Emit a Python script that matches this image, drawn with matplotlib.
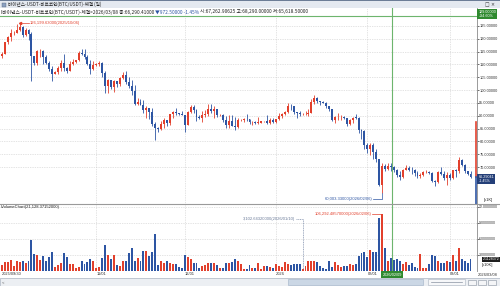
import matplotlib
matplotlib.use("Agg")
import matplotlib.pyplot as plt
import matplotlib.transforms as mtransforms
from matplotlib.patches import Rectangle
import numpy as np
import pandas as pd

plt.rcParams['font.family'] = ['Noto Sans CJK KR', 'DejaVu Sans']

# ---- data (BTC/USDT daily, price in thousand USDT, volume in thousand BTC) ----
dates = pd.date_range('2025-09-30', '2026-03-08', freq='D')

opens = [113.30,
    114.05, 118.59, 120.53, 122.27, 122.39, 123.51, 124.75, 121.45, 123.31, 121.70,
    113.21, 110.64, 115.17, 115.27, 113.03, 110.76, 108.19, 106.43, 107.19, 108.64,
    110.59, 108.48, 107.60, 110.08, 111.03, 111.67, 114.56, 114.11, 112.90, 110.05, 108.32,
    109.61, 110.10, 110.54, 106.58, 101.50, 103.88, 101.35, 103.37, 102.28, 104.72,
    106.01, 103.06, 101.65, 99.70, 94.59, 95.55, 94.26, 92.22, 92.96, 91.55,
    86.64, 85.13, 84.74, 86.83, 88.27, 87.34, 90.48, 91.33, 90.91, 90.85,
    90.39, 86.32, 91.28, 93.45, 92.09, 89.39, 89.27, 90.40, 90.63, 92.69,
    92.02, 92.51, 90.27, 90.29, 88.17, 86.43, 87.86, 86.14, 85.52, 88.14,
    88.36, 88.66, 88.62, 87.49, 87.65, 87.25, 87.30, 87.84, 87.84, 87.14, 88.45,
    87.65, 88.73, 89.95, 90.60, 91.41, 93.88, 93.73, 91.30, 91.03, 90.51,
    90.60, 90.80, 91.19, 95.32, 97.03, 95.59, 95.52, 95.10, 93.63, 92.56,
    88.31, 89.38, 89.46, 89.51, 89.20, 86.58, 88.28, 89.22, 89.20, 84.56, 84.13,
    78.62, 76.97, 78.68, 75.66, 73.02, 62.91, 70.54, 69.28, 70.52, 70.12,
    68.80, 67.04, 66.20, 68.85, 69.77, 68.85, 68.78, 67.50, 66.43, 66.99,
    67.97, 68.02, 67.62, 64.62, 64.07, 67.97, 67.46, 65.88,
    67.00, 65.72, 68.79, 68.36, 72.70, 70.91, 68.31, 67.263]

closes = [114.05,
    118.59, 120.53, 122.27, 122.39, 123.51, 124.75, 121.45, 123.31, 121.70, 113.21,
    110.64, 115.17, 115.27, 113.03, 110.76, 108.19, 106.43, 107.19, 108.64, 110.59,
    108.48, 107.60, 110.08, 111.03, 111.67, 114.56, 114.11, 112.90, 110.05, 108.32, 109.61,
    110.10, 110.54, 106.58, 101.50, 103.88, 101.35, 103.37, 102.28, 104.72, 106.01,
    103.06, 101.65, 99.70, 94.59, 95.55, 94.26, 92.22, 92.96, 91.55, 86.64,
    85.13, 84.74, 86.83, 88.27, 87.34, 90.48, 91.33, 90.91, 90.85, 90.39,
    86.32, 91.28, 93.45, 92.09, 89.39, 89.27, 90.40, 90.63, 92.69, 92.02,
    92.51, 90.27, 90.29, 88.17, 86.43, 87.86, 86.14, 85.52, 88.14, 88.36,
    88.66, 88.62, 87.49, 87.65, 87.25, 87.30, 87.84, 87.84, 87.14, 88.45, 87.65,
    88.73, 89.95, 90.60, 91.41, 93.88, 93.73, 91.30, 91.03, 90.51, 90.60,
    90.80, 91.19, 95.32, 97.03, 95.59, 95.52, 95.10, 93.63, 92.56, 88.31,
    89.38, 89.46, 89.51, 89.20, 86.58, 88.28, 89.22, 89.20, 84.56, 84.13, 78.62,
    76.97, 78.68, 75.66, 73.02, 62.91, 70.54, 69.28, 70.52, 70.12, 68.80,
    67.04, 66.20, 68.85, 69.77, 68.85, 68.78, 67.50, 66.43, 66.99, 67.97,
    68.02, 67.62, 64.62, 64.07, 67.97, 67.46, 65.88, 67.00,
    65.72, 68.79, 68.36, 72.70, 70.91, 68.31, 67.26, 66.29041]

highs = [114.8,
    118.9, 121.0, 123.9, 122.9, 125.7, 126.2, 125.1, 124.2, 123.8, 122.6,
    113.4, 115.8, 116.0, 115.5, 113.6, 111.3, 109.3, 107.5, 109.4, 111.7,
    114.0, 109.1, 111.3, 112.0, 111.9, 115.4, 116.1, 116.0, 113.6, 111.6, 111.2,
    110.5, 111.3, 110.8, 107.3, 104.5, 104.0, 104.1, 103.4, 105.0, 107.0,
    107.5, 105.3, 104.0, 102.0, 96.9, 96.6, 96.0, 93.8, 93.2, 93.2,
    87.5, 85.6, 88.0, 89.2, 88.5, 90.7, 91.9, 93.1, 91.2, 91.9,
    90.4, 92.0, 94.2, 94.1, 92.7, 90.3, 91.8, 92.3, 94.6, 94.5,
    93.6, 92.8, 90.6, 90.5, 90.0, 90.4, 90.4, 89.5, 89.0, 88.6,
    89.1, 90.6, 88.9, 88.0, 88.0, 89.5, 88.0, 88.0, 90.4, 89.3, 89.0,
    88.9, 90.9, 91.0, 91.8, 94.8, 94.7, 93.8, 91.5, 91.8, 90.9,
    91.9, 92.5, 96.5, 97.9, 97.2, 95.9, 95.6, 95.5, 93.6, 92.8,
    90.0, 91.2, 90.2, 89.9, 89.2, 88.9, 89.6, 90.6, 89.5, 84.7, 84.3,
    79.3, 79.2, 79.3, 76.9, 73.3, 71.7, 71.2, 71.7, 71.5, 70.4,
    69.4, 68.3, 69.2, 70.9, 70.4, 70.0, 69.1, 68.5, 67.6, 68.3,
    68.7, 68.3, 68.1, 65.0, 68.3, 70.0, 68.3, 68.0,
    67.8, 69.0, 69.3, 74.0, 73.1, 71.3, 68.6, 68.29]

lows = [112.7,
    113.9, 118.0, 119.3, 121.6, 122.2, 123.1, 120.6, 121.1, 119.7, 103.6,
    109.6, 109.6, 113.0, 110.0, 110.2, 107.4, 103.5, 106.3, 106.1, 107.6,
    107.4, 106.7, 107.5, 109.7, 110.6, 111.3, 113.8, 112.2, 109.6, 106.3, 108.0,
    109.4, 109.5, 105.3, 98.9, 98.9, 100.3, 99.3, 101.4, 101.5, 104.3,
    102.5, 100.8, 98.0, 94.0, 94.0, 94.0, 91.2, 89.3, 88.6, 86.1,
    80.6, 83.5, 84.6, 85.3, 86.1, 86.3, 89.2, 90.2, 90.2, 90.2,
    83.8, 86.2, 91.0, 90.9, 88.1, 88.9, 87.7, 89.6, 89.9, 91.2,
    89.3, 89.5, 89.8, 87.6, 85.1, 85.3, 85.9, 84.5, 85.3, 87.8,
    87.6, 87.9, 86.6, 86.4, 86.6, 86.7, 87.2, 87.4, 86.7, 86.9, 87.0,
    87.3, 88.3, 89.3, 90.3, 91.0, 92.4, 90.8, 89.3, 89.8, 90.2,
    90.3, 90.0, 91.0, 94.5, 94.8, 94.3, 94.8, 92.9, 91.9, 87.8,
    87.3, 88.3, 88.5, 88.8, 86.0, 86.2, 87.2, 88.6, 83.3, 81.1, 77.0,
    75.6, 74.6, 73.1, 72.1, 62.5, 60.00333, 68.3, 68.9, 68.5, 68.0,
    66.1, 65.1, 65.9, 68.7, 68.6, 67.3, 66.6, 65.9, 65.7, 66.3,
    67.7, 67.4, 64.2, 62.5, 63.9, 66.8, 64.8, 63.0,
    65.0, 65.5, 66.2, 67.8, 70.2, 67.5, 66.9, 65.6185]

volumes = [10.8,
    15.3, 15.3, 19.1, 7.6, 17.2, 15.3, 17.2, 14.0, 17.2, 56.7,
    31.8, 28.7, 19.1, 28.0, 18.5, 24.8, 33.8, 6.4, 10.8, 14.6,
    33.1, 24.8, 12.7, 12.1, 4.5, 6.0, 17.2, 12.7, 15.9, 21.7, 17.2,
    4.5, 7.0, 23.6, 47.1, 29.9, 21.7, 28.7, 10.8, 8.3, 18.5,
    17.2, 32.5, 42.7, 18.5, 23.6, 17.2, 35.7, 35.7, 28.0, 35.0,
    68.2, 10.8, 17.2, 14.0, 17.2, 14.0, 12.1, 12.7, 6.4, 4.5,
    29.9, 24.8, 21.7, 14.0, 14.6, 4.5, 8.9, 10.8, 13.4, 14.6,
    14.6, 10.8, 4.5, 3.8, 14.6, 14.6, 15.9, 21.0, 17.2, 12.1,
    3.5, 3.3, 9.6, 4.5, 4.5, 14.0, 3.5, 8.9, 7.6, 5.7, 4.5,
    12.7, 7.6, 5.7, 15.9, 12.7, 10.8, 12.1, 12.1, 12.1, 3.1026432,
    8.0, 18.5, 18.5, 18.5, 15.9, 8.9, 4.5, 3.5, 18.5, 6.4,
    15.9, 10.8, 5.7, 8.9, 7.6, 12.7, 10.8, 12.1, 28.0, 33.1, 35.0,
    26.0, 38.2, 35.0, 35.0, 98.0, 106.2924857, 41.4, 17.2, 23.6, 20.0,
    22.3, 18.5, 12.1, 15.9, 10.8, 14.0, 5.7, 4.5, 31.2, 4.5,
    4.5, 12.0, 29.9, 27.4, 17.2, 14.6, 14.6, 17.2,
    15.9, 29.9, 17.2, 42.7, 22.3, 18.5, 14.0, 21.12837152]

price_ticks = [70, 75, 80, 85, 90, 95, 100, 105, 110, 115, 120, 125]
vol_ticks = [3, 6, 9, 12]
month_ticks = ['2025-09-30', '2025-11-01', '2025-12-01', '2026-01-01', '2026-02-01', '2026-03-01']
month_labels = ['2025/09/30', '11/01', '12/01', '2026', '02/01', '03/01']
cross_day = '2026-02-09'
cross_price = 129.0

RED = '#e2402c'
BLUE = '#2d55a3'
GREEN = '#6db56d'
GRID = '#c9c9c9'
LAT = 'Liberation Sans'

W, H = 500, 286
fig = plt.figure(figsize=(W / 100, H / 100), dpi=100)
fig.patch.set_facecolor('white')


def rect(x0, y0, x1, y1):
    return [x0 / W, 1 - y1 / H, (x1 - x0) / W, (y1 - y0) / H]


def fpos(x, y):
    return x / W, 1 - y / H


ax = fig.add_axes(rect(0, 8, 477, 204))
axv = fig.add_axes(rect(0, 204, 477, 270.5))

o = np.array(opens)
c = np.array(closes)
hi = np.array(highs)
lo = np.array(lows)
vol = np.array(volumes) / 10.0  # -> x10K
idx = np.arange(len(c))
cols = np.where(c >= o, RED, BLUE)

for a in (ax, axv):
    a.set_xlim(-0.68, 161.2)
    for s in a.spines.values():
        s.set_visible(False)
    a.spines['right'].set_visible(True)
    a.spines['right'].set_color('#8a8a8a')
    a.spines['right'].set_linewidth(0.6)

ax.set_ylim(55.57, 132.02)
axv.set_ylim(0, 12.48)

# grids
month_idx = [dates.get_loc(pd.Timestamp(d)) for d in month_ticks]
for m in month_idx[1:]:
    ax.axvline(m, color=GRID, lw=0.5, ls=(0, (1, 1.5)), zorder=0)
    axv.axvline(m, color=GRID, lw=0.5, ls=(0, (1, 1.5)), zorder=0)
for p in price_ticks:
    ax.axhline(p, color=GRID, lw=0.5, ls=(0, (1, 1.5)), zorder=0)
for v in vol_ticks:
    axv.axhline(v, color=GRID, lw=0.5, ls=(0, (1, 1.5)), zorder=0)

# candles
ax.vlines(idx, lo, hi, colors=cols, linewidth=0.6, zorder=2)
ax.bar(idx, np.maximum(np.abs(c - o), 0.18), bottom=np.minimum(o, c), width=0.66,
       color=cols, linewidth=0, zorder=3)

# volume
axv.bar(idx, vol, width=0.66, color=cols, linewidth=0, zorder=2)

# right axis ticks
ax.yaxis.tick_right()
ax.set_yticks(price_ticks)
ax.set_yticklabels([f'{p:.5f}' for p in price_ticks])
axv.yaxis.tick_right()
axv.set_yticks(vol_ticks)
axv.set_yticklabels([f'{v:.7f}' for v in vol_ticks])
ax.tick_params(axis='y', length=1.3, width=0.5, pad=0.4, labelsize=2.8,
               colors='#333333', labelfontfamily=LAT)
axv.tick_params(axis='y', length=1.2, width=0.5, pad=0.3, labelsize=2.6,
                colors='#333333', labelfontfamily=LAT)
ax.tick_params(axis='x', bottom=False, labelbottom=False)
axv.set_xticks(month_idx)
axv.set_xticklabels(month_labels, ha='left')
axv.tick_params(axis='x', length=0, pad=1.2, labelsize=2.9, colors='#333333',
                labelfontfamily=LAT)

# crosshair
ci = dates.get_loc(pd.Timestamp(cross_day)) + 0.5
ax.axvline(ci, color=GREEN, lw=0.8, zorder=4)
axv.axvline(ci, color=GREEN, lw=0.8, zorder=4)
ax.axhline(cross_price, color=GREEN, lw=0.8, zorder=4)

# max / min annotations on price
imax = int(np.argmax(hi))
imin = int(np.argmin(lo))
ax.plot([imax, imax + 3.2], [hi[imax], hi[imax]], color=RED, lw=0.5, zorder=5)
ax.plot([imax], [hi[imax]], marker='<', ms=1.6, color=RED, zorder=5)
ax.text(imax + 3.3, hi[imax], f'{hi[imax] * 1000 - 0.37:,.5f}({dates[imax]:%Y/%m/%d})',
        fontsize=3.0, color=RED, va='center', ha='left', family=LAT, zorder=5)
ylab = 57.45
ax.plot([imin - 3.0, imin, imin], [ylab, ylab, lo[imin]], color=BLUE, lw=0.5, zorder=5)
ax.text(imin - 3.1, ylab, f'{lo[imin] * 1000:,.5f}({dates[imin]:%Y/%m/%d})',
        fontsize=3.0, color=BLUE, va='center', ha='right', family=LAT, zorder=5)

# max / min annotations on volume
vmax = int(np.argmax(vol))
vmin = int(np.argmin(vol))
ax_y = 10.63
axv.plot([vmax - 3.4, vmax], [ax_y, ax_y], color=RED, lw=0.5, zorder=5)
axv.text(vmax - 3.5, ax_y, f'{volumes[vmax] * 1000:,.8f}({dates[vmax]:%Y/%m/%d})',
         fontsize=3.0, color=RED, va='center', ha='right', family=LAT, zorder=5)
vy = 9.66
axv.plot([vmin - 2.3, vmin, vmin], [vy, vy, vol[vmin]], color='#7a8aa8', lw=0.5,
         ls=(0, (1.5, 1)), zorder=5)
axv.text(vmin - 2.4, vy, f'{volumes[vmin] * 1000:,.8f}({dates[vmin]:%Y/%m/%d})',
         fontsize=3.0, color='#6a7a98', va='center', ha='right', family=LAT, zorder=5)

# right-axis markers
trans = mtransforms.blended_transform_factory(ax.transAxes, ax.transData)
ax.plot([0.998, 0.998], [87.5, c[-1]], transform=trans, color=RED, lw=1.2,
        clip_on=False, zorder=6)
ax.plot([0.998, 0.998], [c[-1], 55.57], transform=trans, color=BLUE, lw=1.2,
        clip_on=False, zorder=6)
ax.text(1.003, c[-1] - 0.9, f'{c[-1]:.5f}\n{(c[-1] / o[-1] - 1) * 100:.2f}%', transform=trans,
        fontsize=2.7, color='white', va='center', ha='left', family=LAT,
        linespacing=0.95, zorder=7,
        bbox=dict(boxstyle='square,pad=0.25', fc='#243f78', ec='none'))
ax.text(1.003, cross_price + 0.6, f'{cross_price:.5f}\n+{(cross_price / c[-1] - 1) * 100:.2f}%',
        transform=trans, fontsize=2.7, color='white', va='center', ha='left',
        family=LAT, linespacing=0.95, zorder=7,
        bbox=dict(boxstyle='square,pad=0.25', fc='#2f8a2f', ec='none'))
transv = mtransforms.blended_transform_factory(axv.transAxes, axv.transData)
axv.text(1.012, vol[-1], f'{vol[-1]:.7f}', transform=transv, fontsize=2.6, color='white',
         va='center', ha='left', family=LAT, zorder=7,
         bbox=dict(boxstyle='square,pad=0.2', fc='#1e1e1e', ec='none'))

# unit labels
fig.text(*fpos(484, 200.5), '[x1K]', fontsize=2.9, family=LAT, color='#222222', va='center')
fig.text(*fpos(482, 264.8), '[x10K]', fontsize=2.9, family=LAT, color='#222222', va='center')
fig.text(*fpos(478, 274.5), f'{dates[-1]:%Y/%m/%d}', fontsize=2.9, family=LAT,
         color='#333333', va='center')

# crosshair date box
fig.text(*fpos(2 + 2.946 * ci, 274.5), cross_day.replace('-', '/'), fontsize=2.8,
         family=LAT, color='white', va='center', ha='center',
         bbox=dict(boxstyle='square,pad=0.3', fc='#2f8a2f', ec='none'))

# panel separator
fig.add_artist(plt.Line2D([0, 1], [1 - 204 / H, 1 - 204 / H], color='#9a9a9a', lw=0.8))

# title bar
fig.add_artist(Rectangle((0, 1 - 8 / H), 1, 8 / H, transform=fig.transFigure,
                         fc='#e4e9f0', ec='none'))
fig.add_artist(Rectangle((0, 1 - 1.2 / H), 1, 1.2 / H, transform=fig.transFigure,
                         fc='#6c7d96', ec='none'))
fig.add_artist(Rectangle((2 / W, 1 - 6.5 / H), 4 / W, 4 / H, transform=fig.transFigure,
                         fc='#8aa0c0', ec='#5a6a80', lw=0.3))
fig.text(*fpos(8, 4.6), '바이낸스-USDT-비트코인(BTC/USDT)-체결 (일)', fontsize=3.3,
         color='#222222', va='center')
fig.text(*fpos(485, 4.6), '□ ×', fontsize=3.4, color='#333333', va='center',
         family='DejaVu Sans')

# header line
t1 = fig.text(*fpos(1, 11.8), 'I바이낸스-USDT-비트코인(BTC/USDT)-체결>2026/03/08 종:66,290.41000 ',
              fontsize=3.45, color='#222222', va='center')
t2 = fig.text(0, 0, '▼972.50000 -1.45% ', fontsize=3.45, color=BLUE, va='center')
t3 = fig.text(0, 0, '시:67,262.90625 고:68,290.00000 저:65,618.50000', fontsize=3.45,
              color='#222222', va='center')
fig.canvas.draw()
r = fig.canvas.get_renderer()
bb = t1.get_window_extent(r)
t2.set_position(((bb.x1) / (W), 1 - 11.8 / H))
bb = t2.get_window_extent(r)
t3.set_position(((bb.x1) / (W), 1 - 11.8 / H))

# volume header
fig.text(*fpos(1, 207.2), 'IVolumeChart(21,128.37152000)', fontsize=3.0, color='#222222',
         va='center', family=LAT)

# scrollbar
fig.add_artist(Rectangle((0, 0), 1, 8 / H, transform=fig.transFigure, fc='#eceff3',
                         ec='#aab3c0', lw=0.5))
fig.add_artist(Rectangle((288 / W, 1 / H), 135 / W, 6 / H, transform=fig.transFigure,
                         fc='#cbd7e5', ec='#9fb0c6', lw=0.4))
fig.add_artist(Rectangle((428 / W, 1 / H), 37 / W, 6 / H, transform=fig.transFigure,
                         fc='#f6f7f9', ec='#aab3c0', lw=0.4))
fig.add_artist(plt.Line2D([431 / W, 462 / W], [4 / H, 4 / H], color='#8892a0', lw=0.5))
for bx in (468, 478, 488):
    fig.add_artist(Rectangle((bx / W, 1.5 / H), 8 / W, 5 / H, transform=fig.transFigure,
                             fc='#f4f5f7', ec='#8892a0', lw=0.4))
fig.text(*fpos(2, 282), '<', fontsize=3.0, color='#555555', va='center', family=LAT)

fig.savefig('out.png', dpi=100)
